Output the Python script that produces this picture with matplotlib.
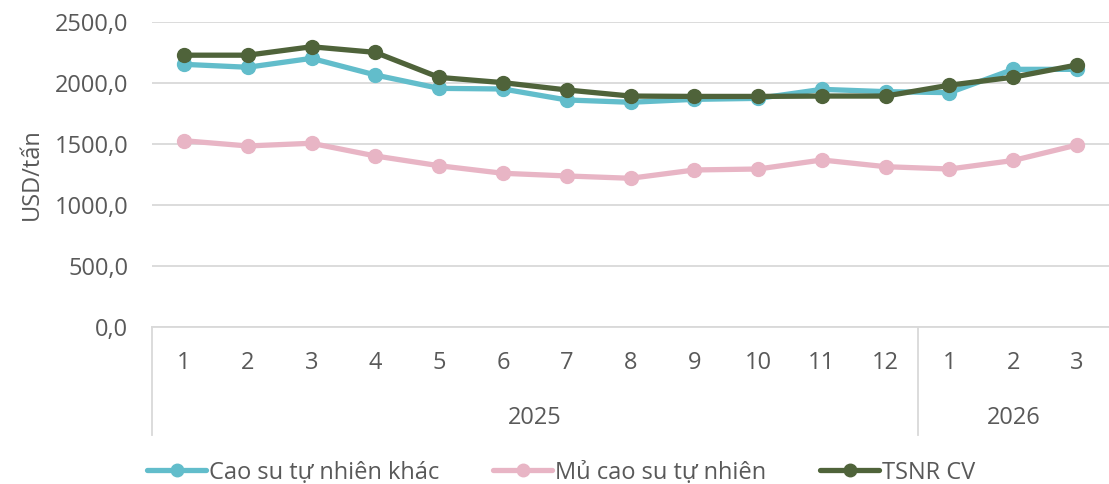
import matplotlib.pyplot as plt
from matplotlib.ticker import FuncFormatter
import matplotlib.transforms as mtransforms

plt.rcParams['font.family'] = ['Open Sans', 'DejaVu Sans']

months = ['1', '2', '3', '4', '5', '6', '7', '8', '9', '10', '11', '12', '1', '2', '3']
years = ['2025', '2026']
year_sizes = [12, 3]

cao_su_khac = [2153, 2129, 2202, 2066, 1956, 1951, 1861, 1842, 1866, 1874, 1948, 1929, 1921, 2112, 2112]
mu_cao_su = [1527, 1484, 1506, 1402, 1322, 1260, 1238, 1219, 1287, 1295, 1369, 1314, 1295, 1365, 1492]
tsnr_cv = [2228, 2228, 2297, 2251, 2046, 2003, 1943, 1893, 1890, 1890, 1893, 1893, 1982, 2048, 2148]

text_color = '#595959'
grid_color = '#d9d9d9'
fs = 17

fig = plt.figure(figsize=(11.09, 4.84), dpi=100)
ax = fig.add_axes([152 / 1109, 1 - 327 / 484, 1 - 152 / 1109, 305 / 484])

x = list(range(len(months)))
series = [
    (cao_su_khac, '#62bdcb', 'Cao su tự nhiên khác', 3),
    (mu_cao_su, '#e8b5c5', 'Mủ cao su tự nhiên', 2),
    (tsnr_cv, '#4f633a', 'TSNR CV', 4),
]
for values, color, label, z in series:
    ax.plot(x, values, color=color, lw=3.8, marker='o', ms=10, label=label,
            zorder=z, solid_capstyle='round')

ax.set_xlim(-0.5, len(months) - 0.5)
ax.set_ylim(0, 2500)
ax.set_yticks(range(0, 2501, 500))
ax.yaxis.set_major_formatter(FuncFormatter(lambda v, _: f'{v:.1f}'.replace('.', ',')))
ax.grid(axis='y', color=grid_color, lw=1.3)
ax.set_axisbelow(True)
for side in ['top', 'right', 'left']:
    ax.spines[side].set_visible(False)
ax.spines['bottom'].set_color(grid_color)
ax.spines['bottom'].set_linewidth(1.3)

ax.tick_params(axis='y', length=0, pad=17, labelsize=fs, labelcolor=text_color)
ax.set_xticks(x)
ax.set_xticklabels(months)
ax.tick_params(axis='x', length=0, pad=17, labelsize=fs, labelcolor=text_color)
ax.set_ylabel('USD/tấn', fontsize=fs, color=text_color, labelpad=8)

# second level of the category axis: year groups with separators
trans = mtransforms.blended_transform_factory(ax.transData, ax.transAxes)
start = -0.5
edges = [start]
for year, size in zip(years, year_sizes):
    ax.text(start + size / 2, -0.30, year, transform=trans, ha='center', va='center',
            fontsize=fs, color=text_color)
    start += size
    edges.append(start)
for edge in edges[:-1]:
    ax.plot([edge, edge], [0, -0.355], transform=trans, color=grid_color, lw=1.3,
            clip_on=False)

fig.legend(loc='lower center', bbox_to_anchor=(0.506, -0.045), ncol=3, frameon=False,
           fontsize=fs, labelcolor=text_color, handlelength=2.5, handletextpad=0.1,
           columnspacing=2.3, markerscale=0.9)

fig.savefig('out.png', dpi=100)
